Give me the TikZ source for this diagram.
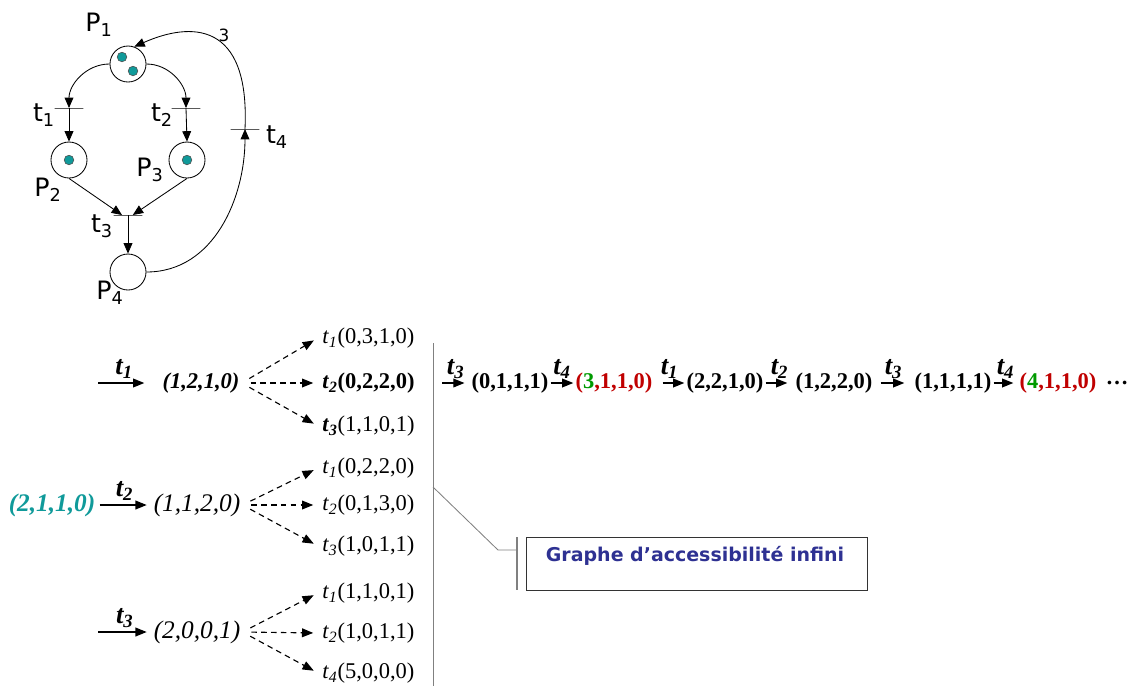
\documentclass[tikz,border=0pt]{standalone}
\usepackage{fontspec}
\setmainfont{Liberation Serif}
\newfontfamily\pnfont{DejaVu Sans}
\usepackage{xcolor}
\usetikzlibrary{arrows.meta}
\definecolor{tokteal}{HTML}{109A9A}
\definecolor{seqred}{HTML}{C00000}
\definecolor{seqgreen}{HTML}{009A00}
\definecolor{callblue}{HTML}{2E3192}
\newcommand{\tr}[1]{\textit{t}\textsubscript{\textit{#1}}}
\newcommand{\pl}[2]{#1\textsubscript{#2}}

\begin{document}
\begin{tikzpicture}[x=0.025cm, y=0.025cm,
  place/.style={circle, draw, semithick, minimum size=0.9cm, inner sep=0pt},
  token/.style={circle, draw=black!70, fill=tokteal, minimum size=0.24cm, inner sep=0pt},
  trans/.style={draw, semithick, minimum width=0.72cm, minimum height=0pt, inner sep=0pt},
  pnlab/.style={font=\pnfont\fontsize{18}{20}\selectfont, inner sep=0pt},
  arc/.style={semithick, -{Triangle[length=2.6mm,width=2.2mm]}},
  tuple/.style={font=\fontsize{16}{18}\selectfont, inner sep=0.05cm},
  child/.style={font=\fontsize{16}{18}\selectfont, inner sep=0.1cm, anchor=west},
  fire/.style={thick, -{Triangle[length=2.8mm,width=2.2mm]}},
  fan/.style={thick, dash pattern=on 4pt off 3pt, -{Triangle[length=2.8mm,width=2.2mm]}, shorten <=0.22cm, shorten >=0.12cm},
  flab/.style={font=\fontsize{19}{21}\selectfont\bfseries\itshape, inner sep=1pt, above=2pt},
]
\useasboundingbox (0,0) rectangle (1137,-686);

% Petri net
\node[place] (P1) at (128,-64) {};
\node[token] at (122,-57) {};
\node[token] at (133,-71) {};
\node[place] (P2) at (69,-160) {};
\node[token] at (69,-160) {};
\node[place] (P3) at (187,-160) {};
\node[token] at (187,-160) {};
\node[place] (P4) at (128,-272) {};

\node[trans] (t1) at (69,-108) {};
\node[trans] (t2) at (186,-108) {};
\node[trans] (t3) at (128,-215) {};
\node[trans] (t4) at (245,-129) {};

\node[pnlab] (lP1) at (99,-25) {\pl{P}{1}};
\node[pnlab] (lP2) at (48,-190) {\pl{P}{2}};
\node[pnlab] (lP3) at (150,-170) {\pl{P}{3}};
\node[pnlab] (lP4) at (110,-293) {\pl{P}{4}};
\node[pnlab] (lt1) at (44,-115) {\pl{t}{1}};
\node[pnlab] (lt2) at (162,-115) {\pl{t}{2}};
\node[pnlab] (lt3) at (102,-226) {\pl{t}{3}};
\node[pnlab] (lt4) at (277,-137) {\pl{t}{4}};
\node[font=\pnfont\fontsize{12}{14}\selectfont, inner sep=0pt] (w3) at (224,-35) {3};

\draw[arc] (P1.west) to[out=180,in=90] (t1.center);
\draw[arc] (P1.east) to[out=0,in=90] (t2.center);
\draw[arc] (t1.center) -- (P2.north);
\draw[arc] (t2.center) -- (P3.north);
\draw[arc] (P2.south) -- ([xshift=-0.15cm]t3.center);
\draw[arc] (P3.south) -- ([xshift=0.12cm]t3.center);
\draw[arc] (t3.center) -- (P4.north);
\draw[arc] (P4.east) to[out=0,in=-90] (t4.center);
\draw[arc] (t4.center) .. controls (250,-20) and (190,-22) .. (P1.70);

% firing tree
\coordinate (s1) at (98,-383);
\coordinate (s3) at (98,-632);
\node[tuple, font=\fontsize{16}{18}\selectfont\bfseries\itshape] (m1) at (201,-383) {(1,2,1,0)};
\node[tuple, font=\fontsize{18}{20}\selectfont\bfseries\itshape, text=tokteal] (m0) at (52,-505) {(2,1,1,0)};
\node[tuple, font=\fontsize{18}{20}\selectfont\itshape] (m2) at (197,-505) {(1,1,2,0)};
\node[tuple, font=\fontsize{18}{20}\selectfont\itshape] (m3) at (197,-632) {(2,0,0,1)};

\draw[fire, shorten >=0.4cm] (s1) -- (m1.west) node[flab, pos=0.42] {\tr{1}};
\draw[fire, shorten <=0.05cm, shorten >=0.12cm] (m0.east) -- (m2.west) node[flab, midway] {\tr{2}};
\draw[fire, shorten >=0.12cm] (s3) -- (m3.west) node[flab, midway] {\tr{3}};

\node[child] (c11) at (318,-338) {\tr{1}(0,3,1,0)};
\node[child, font=\fontsize{16}{18}\selectfont\bfseries] (c12) at (318,-383) {\tr{2}(0,2,2,0)};
\node[child] (c13) at (318,-426) {\textbf{\tr{3}}(1,1,0,1)};
\node[child] (c21) at (318,-468) {\tr{1}(0,2,2,0)};
\node[child] (c22) at (318,-505) {\tr{2}(0,1,3,0)};
\node[child] (c23) at (318,-546) {\tr{3}(1,0,1,1)};
\node[child] (c31) at (318,-593) {\tr{1}(1,1,0,1)};
\node[child] (c32) at (318,-633) {\tr{2}(1,0,1,1)};
\node[child] (c33) at (318,-673) {\tr{4}(5,0,0,0)};

\foreach \r in {1,2,3}{
  \foreach \c in {1,2,3}{
    \draw[fan] (m\r.east) -- (c\r\c.west);
  }
}

% separator
\coordinate (vtop) at (433,-343);
\coordinate (vbot) at (433,-686);
\draw[gray, semithick] (vtop) -- (vbot);

% infinite sequence
\coordinate (s4) at (442,-383);
\begin{scope}[every node/.style={tuple, font=\fontsize{16}{18}\selectfont\bfseries}]
\node (r1) at (510,-383) {(0,1,1,1)};
\node[text=seqred] (r2) at (614,-383) {(\textcolor{seqgreen}{3},1,1,0)};
\node (r3) at (725,-383) {(2,2,1,0)};
\node (r4) at (834,-383) {(1,2,2,0)};
\node (r5) at (953,-383) {(1,1,1,1)};
\node[text=seqred] (r6) at (1058,-383) {(\textcolor{seqgreen}{4},1,1,0)};
\node (dots) at (1117,-383) {\dots};
\end{scope}
\draw[fire, shorten >=0.12cm] (s4) -- (r1.west) node[flab, midway] {\tr{3}};
\draw[fire] (r1.east) -- (r2.west) node[flab, midway] {\tr{4}};
\draw[fire, shorten <=0.2cm] (r2.east) -- (r3.west) node[flab, midway] {\tr{1}};
\draw[fire, shorten >=0.15cm] (r3.east) -- (r4.west) node[flab, midway] {\tr{2}};
\draw[fire, shorten <=0.15cm, shorten >=0.2cm] (r4.east) -- (r5.west) node[flab, midway] {\tr{3}};
\draw[fire, shorten >=0.1cm] (r5.east) -- (r6.west) node[flab, midway] {\tr{4}};

% callout
\node[draw=black!80, minimum width=8.52cm, minimum height=1.33cm, inner sep=0pt] (call) at (696.5,-563.5) {};
\node[font=\pnfont\fontsize{13.5}{16}\selectfont\bfseries, text=callblue, inner sep=0pt] (calltext) at (695,-556) {Graphe d’accessibilité infini};
\coordinate (cfoot) at (433,-487);
\coordinate (cknee) at (498,-550);
\coordinate (cbar) at (517,-550);
\draw[gray, semithick] (cfoot) -- (cknee) -- (cbar);
\draw[gray, line width=1.4pt] (517,-537) -- (517,-590);
\end{tikzpicture}
\end{document}
